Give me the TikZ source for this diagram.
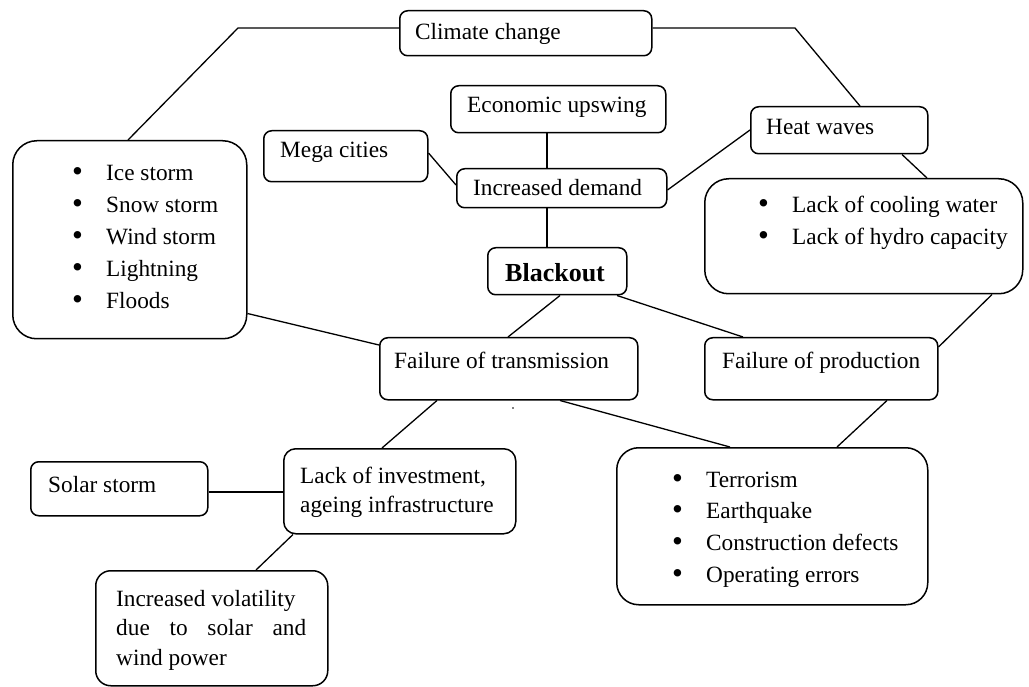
\documentclass[tikz,border=0pt]{standalone}
\usepackage{fontspec}
\setmainfont{Liberation Serif}
\usetikzlibrary{calc}
\newcommand\bul{\makebox[34pt][l]{\raisebox{-1pt}{\fontsize{31}{31}\selectfont •}}}
\begin{document}
\begin{tikzpicture}[x=1pt,y=-1pt,
  box/.style={draw, line width=1.5pt, rounded corners=8pt, anchor=north west, inner sep=0pt},
  bigbox/.style={box, rounded corners=24pt},
  txt/.style={anchor=base west, inner sep=0pt, font=\fontsize{23.3}{29}\selectfont},
  list/.style={txt, font=\fontsize{23.3}{31.8}\selectfont},
  link/.style={line width=1.3pt}]
\useasboundingbox (0,0) rectangle (1029,687);

% boxes
\node[box, minimum width=252pt, minimum height=45pt] (cc) at (399,10) {};
\node[box, minimum width=215pt, minimum height=47pt] (eu) at (450,85) {};
\node[box, minimum width=164pt, minimum height=51pt] (mc) at (263,130) {};
\node[box, minimum width=210pt, minimum height=39pt] (id) at (456,168) {};
\node[box, minimum width=139pt, minimum height=47pt] (bo) at (487,247) {};
\node[box, minimum width=177pt, minimum height=47pt] (hw) at (750,106) {};
\node[bigbox, minimum width=318pt, minimum height=115pt] (cw) at (704,178) {};
\node[bigbox, minimum width=234pt, minimum height=198pt] (wx) at (12,140) {};
\node[box, minimum width=258pt, minimum height=62pt] (ft) at (379,337) {};
\node[box, minimum width=233pt, minimum height=62pt] (fp) at (704,337) {};
\node[bigbox, rounded corners=22pt, minimum width=311pt, minimum height=157pt] (tr) at (616,447) {};
\node[box, rounded corners=12pt, minimum width=232pt, minimum height=85pt] (li) at (283,448) {};
\node[box, minimum width=177pt, minimum height=54pt] (ss) at (30,461) {};
\node[box, rounded corners=15pt, minimum width=232pt, minimum height=115pt] (iv) at (95,570) {};

% texts
\node[txt] (tcc) at (415,40) {Climate change};
\node[txt] (teu) at (467,113) {Economic upswing};
\node[txt] (tmc) at (280,158) {Mega cities};
\node[txt] (tid) at (473,196) {Increased demand};
\node[txt, font=\fontsize{26}{30}\selectfont\bfseries] (tbo) at (505,282) {Blackout};
\node[txt] (thw) at (766,135) {Heat waves};
\node[list] (tcw) at (758,213) {\parbox[t]{300pt}{\bul Lack of cooling water\\ \bul Lack of hydro capacity}};
\node[list] (twx) at (72,181) {\parbox[t]{200pt}{\bul Ice storm\\ \bul Snow storm\\ \bul Wind storm\\ \bul Lightning\\ \bul Floods}};
\node[txt] (tft) at (394,368) {Failure of transmission};
\node[txt] (tfp) at (722,368) {Failure of production};
\node[list] (ttr) at (672,487) {\parbox[t]{300pt}{\bul Terrorism\\ \bul Earthquake\\ \bul Construction defects\\ \bul Operating errors}};
\node[txt] (tli) at (300,483) {\parbox[t]{220pt}{Lack of investment,\\ ageing infrastructure}};
\node[txt] (tss) at (48,492) {Solar storm};
\node[list, font=\fontsize{23.3}{29.5}\selectfont] (tiv) at (116,606) {\parbox[t]{190pt}{Increased volatility\\ \makebox[190pt][s]{due\hfill to\hfill solar\hfill and}\\ wind power}};

% connectors
\coordinate (k1) at (238,28);
\coordinate (k2) at (795,28);
\draw[link] ($(cc.north west)+(0,18)$) -- (k1) -- ($(wx.north west)+(116,0)$);
\draw[link] ($(cc.north east)+(0,18)$) -- (k2) -- ($(hw.north west)+(110,0)$);
\draw[link] ($(mc.north east)+(0,23)$) -- ($(id.north west)+(0,17)$);
\draw[link] ($(eu.south west)+(97,0)$) -- ($(id.north west)+(91,0)$);
\draw[link] ($(id.south west)+(91,0)$) -- ($(bo.north west)+(60,0)$);
\draw[link] ($(id.north east)+(0,22)$) -- ($(hw.north west)+(0,24)$);
\draw[link] ($(hw.south west)+(152,0)$) -- ($(cw.north west)+(223,0)$);
\draw[link] ($(bo.south west)+(73,0)$) -- ($(ft.north west)+(129,0)$);
\draw[link] ($(bo.south west)+(130,0)$) -- ($(fp.north west)+(39,0)$);
\draw[link] ($(wx.south east)+(0,-26)$) -- ($(ft.north west)+(0,8)$);
\draw[link] ($(cw.south west)+(288,0)$) -- ($(fp.north east)+(0,10)$);
\draw[link] ($(fp.south west)+(183,0)$) -- ($(tr.north west)+(221,0)$);
\draw[link] ($(ft.south west)+(181,0)$) -- ($(tr.north west)+(114,0)$);
\draw[link] ($(ft.south west)+(58,0)$) -- ($(li.north west)+(99,0)$);
\draw[link] ($(ss.north east)+(0,31)$) -- ($(li.north west)+(0,44)$);
\draw[link] ($(li.south west)+(10,0)$) -- ($(iv.north west)+(161,0)$);
\fill (513,408) circle (0.8);
\end{tikzpicture}
\end{document}
